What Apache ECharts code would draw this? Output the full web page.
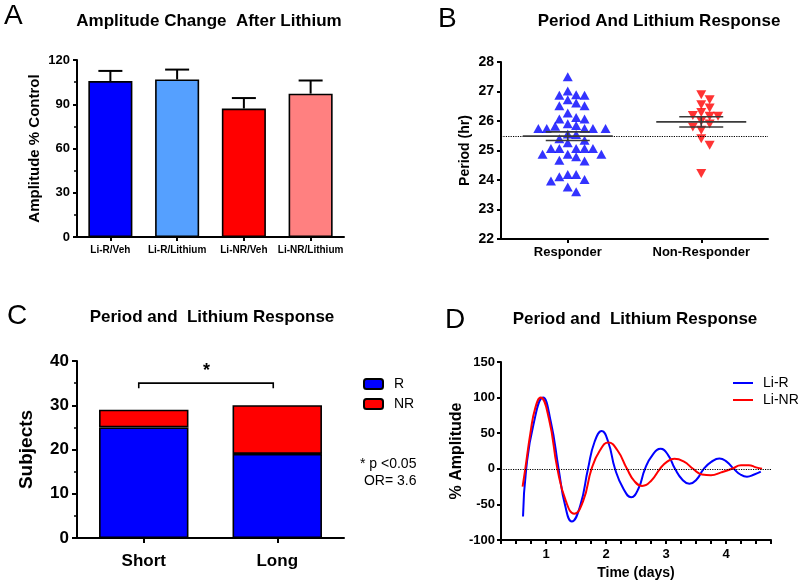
<!DOCTYPE html>
<html>
<head>
<meta charset="utf-8">
<script src="https://cdn.jsdelivr.net/npm/echarts@6/dist/echarts.min.js"></script>
<style>html,body{margin:0;padding:0;background:#fff}#c{width:800px;height:582px}</style>
</head>
<body>
<div id="c"></div>
<script>
// ---------------- DATA ----------------
// Panel A
const ampCategories = ['Li-R/Veh', 'Li-R/Lithium', 'Li-NR/Veh', 'Li-NR/Lithium'];
const ampMean = [105.7, 106.8, 87.1, 97.2];
const ampSEM = [6.9, 6.7, 7.1, 8.9];

// Panel B
const periodGroups = ['Responder', 'Non-Responder'];
const responderPeriod = [27.5, 27.02, 26.89, 26.87, 26.87, 26.72, 26.61, 26.52, 26.52, 26.27,
  26.12, 26.07, 26.07, 25.91, 25.85, 25.82, 25.75, 25.75, 25.75, 25.75, 25.75,
  25.56, 25.54, 25.40, 25.35, 25.26, 25.07, 25.07, 25.07, 25.07, 25.07,
  24.87, 24.87, 24.87, 24.79, 24.67, 24.64, 24.19, 24.19, 24.11, 24.02, 23.97, 23.76, 23.60];
const nonResponderPeriod = [26.89, 26.72, 26.55, 26.44, 26.29, 26.19, 26.16, 26.16,
  25.99, 25.90, 25.80, 25.69, 25.40, 25.18, 24.22];
const periodReference = 25.5;

// Panel C
const lengthCategories = ['Short', 'Long'];
const countR = [25, 19];
const countNR = [4, 11];
const sigBracket = [[0, 1, 35]];
const sigText = ['* p <0.05', ' OR= 3.6'];

// Panel D
const liRTime = [0.617, 0.67, 0.79, 0.95, 1.08, 1.21, 1.32, 1.43, 1.57, 1.70, 1.81, 1.93, 2.04, 2.15,
  2.29, 2.42, 2.54, 2.65, 2.78, 2.91, 3.03, 3.15, 3.27, 3.39, 3.51, 3.63, 3.76, 3.89, 4.01, 4.13,
  4.24, 4.35, 4.47, 4.58];
const liRAmp = [-67, 0, 62, 100, 66, 0, -52, -74, -52, 0, 38, 53, 37, 0,
  -28, -40, -28, 0, 20, 28, 20, 0, -15, -21, -15, 0, 10, 14.5, 10, 0,
  -8, -11, -8, -4];
const liNRTime = [0.61, 0.655, 0.74, 0.82, 0.91, 1.05, 1.19, 1.33, 1.47, 1.62, 1.76, 1.90, 2.04, 2.19,
  2.35, 2.47, 2.60, 2.75, 2.90, 3.02, 3.14, 3.30, 3.45, 3.60, 3.75, 3.92, 4.10, 4.25, 4.38, 4.50, 4.60];
const liNRAmp = [-25, 0, 50, 85, 100, 70, 0, -45, -63, -45, 0, 26, 37, 26,
  0, -17, -24, -17, 0, 10, 14, 10, 0, -8, -9, -5, 0, 5, 5, 2, 0];

// ---------------- STYLE / LAYOUT ----------------
const FONT = "'Liberation Sans', Arial, Helvetica, sans-serif";
const ampColors = ['#0000FF', '#55A0FF', '#FF0000', '#FF8080'];
const gridA = {left: 77, top: 60, width: 267, height: 177};
const gridB = {left: 501, top: 62, width: 267, height: 177};
const gridC = {left: 77, top: 361, width: 267, height: 177};
const gridD = {left: 501, top: 362, width: 270, height: 178};

function mean(a) { return a.reduce((s, v) => s + v, 0) / a.length; }
function sem(a) {
  const m = mean(a);
  const sd = Math.sqrt(a.reduce((s, v) => s + (v - m) * (v - m), 0) / (a.length - 1));
  return sd / Math.sqrt(a.length);
}

// beeswarm placement (computed from values, not typed)
function swarm(values, center) {
  const pxPerY = gridB.height / 6;          // y axis spans 22..28
  const pxPerX = gridB.width / 2;           // x value axis spans 0.5..2.5
  const dx = 8.4, dy = 7.6;
  const placed = [];
  const order = values.map((v, i) => i).sort((a, b) => values[b] - values[a]);
  const out = new Array(values.length);
  for (const i of order) {
    const y = values[i] * pxPerY;
    let off = 0;
    for (let k = 0; k < 80; k++) {
      const o = (k % 2 === 1 ? 1 : -1) * Math.ceil(k / 2) * dx / 2;
      const ok = placed.every(p => ((p.x - o) / dx) ** 2 + ((p.y - y) / dy) ** 2 >= 1);
      if (ok) { off = o; break; }
    }
    placed.push({x: off, y: y});
    out[i] = [center + off / pxPerX, values[i]];
  }
  return out;
}

const axisLineStyle = {show: true, lineStyle: {color: '#000', width: 2}};
const tickStyle = {show: true, length: 4, lineStyle: {color: '#000', width: 2}};
const boldLabel = (size) => ({color: '#000', fontWeight: 'bold', fontSize: size, fontFamily: FONT});

const chart = echarts.init(document.getElementById('c'), null, {renderer: 'canvas'});

const option = {
  animation: false,
  backgroundColor: '#fff',
  textStyle: {fontFamily: FONT},
  title: [
    {text: 'Amplitude Change  After Lithium', left: 209, top: 13, padding: 0, textAlign: 'center', textStyle: boldLabel(17)},
    {text: 'Period And Lithium Response', left: 659, top: 13, padding: 0, textAlign: 'center', textStyle: boldLabel(17)},
    {text: 'Period and  Lithium Response', left: 212, top: 309, padding: 0, textAlign: 'center', textStyle: boldLabel(17)},
    {text: 'Period and  Lithium Response', left: 635, top: 311, padding: 0, textAlign: 'center', textStyle: boldLabel(17)}
  ],
  legend: [
    {
      data: ['R', 'NR'], orient: 'vertical', left: 363, top: 377, padding: 0,
      itemWidth: 19, itemHeight: 10, itemGap: 6,
      icon: 'roundRect', selectedMode: false,
      textStyle: {color: '#000', fontSize: 14, fontFamily: FONT, padding: [0, 0, 0, 6]}
    },
    {
      data: ['Li-R', 'Li-NR'], orient: 'vertical', left: 733, top: 376, padding: 0,
      itemWidth: 20, itemHeight: 2, itemGap: 3, icon: 'rect',
      selectedMode: false,
      textStyle: {color: '#000', fontSize: 14, fontFamily: FONT, padding: [0, 0, 0, 5]}
    }
  ],
  grid: [gridA, gridB, gridC, gridD],
  xAxis: [
    { // 0: A
      type: 'category', gridIndex: 0, data: ampCategories,
      axisLine: axisLineStyle, axisTick: Object.assign({alignWithLabel: true}, tickStyle),
      axisLabel: Object.assign({margin: 8, interval: 0}, boldLabel(10))
    },
    { // 1: B categories
      type: 'category', gridIndex: 1, data: periodGroups,
      axisLine: axisLineStyle, axisTick: Object.assign({alignWithLabel: true}, tickStyle),
      axisLabel: Object.assign({margin: 7, interval: 0}, boldLabel(13))
    },
    { // 2: B value axis for scatter
      type: 'value', gridIndex: 1, min: 0.5, max: 2.5, show: false
    },
    { // 3: C
      type: 'category', gridIndex: 2, data: lengthCategories,
      axisLine: axisLineStyle, axisTick: Object.assign({alignWithLabel: true}, tickStyle, {length: 5}),
      axisLabel: Object.assign({margin: 15, interval: 0}, boldLabel(17))
    },
    { // 4: D
      type: 'value', gridIndex: 3, min: 0.25, max: 4.75, interval: 0.25,
      axisLine: Object.assign({onZero: false}, axisLineStyle), axisTick: Object.assign({}, tickStyle, {length: 4}),
      splitLine: {show: false},
      axisLabel: Object.assign({
        margin: 8, formatter: v => (Math.abs(v - Math.round(v)) < 1e-9 ? String(Math.round(v)) : '')
      }, boldLabel(13)),
      name: 'Time (days)', nameLocation: 'middle', nameGap: 26, nameTextStyle: boldLabel(14)
    }
  ],
  yAxis: [
    {
      type: 'value', gridIndex: 0, min: 0, max: 120, interval: 30,
      axisLine: axisLineStyle, axisTick: tickStyle, splitLine: {show: false},
      minorTick: {show: true, splitNumber: 2, length: 3, lineStyle: {color: '#000', width: 1.5}},
      axisLabel: Object.assign({margin: 7}, boldLabel(13)),
      name: 'Amplitude % Control', nameLocation: 'middle', nameGap: 35, nameTextStyle: boldLabel(15)
    },
    {
      type: 'value', gridIndex: 1, min: 22, max: 28, interval: 1,
      axisLine: axisLineStyle, axisTick: tickStyle, splitLine: {show: false},
      axisLabel: Object.assign({margin: 7}, boldLabel(14)),
      name: 'Period (hr)', nameLocation: 'middle', nameGap: 29, nameTextStyle: boldLabel(14)
    },
    {
      type: 'value', gridIndex: 2, min: 0, max: 40, interval: 10,
      axisLine: axisLineStyle, axisTick: Object.assign({}, tickStyle, {length: 5}), splitLine: {show: false},
      minorTick: {show: true, splitNumber: 2, length: 3, lineStyle: {color: '#000', width: 1.5}},
      axisLabel: Object.assign({margin: 8}, boldLabel(17)),
      name: 'Subjects', nameLocation: 'middle', nameGap: 41, nameTextStyle: boldLabel(19)
    },
    {
      type: 'value', gridIndex: 3, min: -100, max: 150, interval: 50,
      axisLine: axisLineStyle, axisTick: tickStyle, splitLine: {show: false},
      axisLabel: Object.assign({margin: 6}, boldLabel(13)),
      name: '% Amplitude', nameLocation: 'middle', nameGap: 36, nameTextStyle: boldLabel(16)
    }
  ],
  series: [
    // ---- A bars
    {
      type: 'bar', xAxisIndex: 0, yAxisIndex: 0, barWidth: '66%',
      data: ampMean.map((v, i) => ({value: v, itemStyle: {color: ampColors[i]}})),
      itemStyle: {borderColor: '#000', borderWidth: 1.6}
    },
    // ---- A error bars (upper only)
    {
      type: 'custom', xAxisIndex: 0, yAxisIndex: 0, z: 5,
      data: ampMean.map((m, i) => [i, m, ampSEM[i]]),
      encode: {x: 0, y: 1},
      renderItem: (params, api) => {
        const x = api.value(0), m = api.value(1), e = api.value(2);
        const base = api.coord([x, m]);
        const top = api.coord([x, m + e]);
        const st = {stroke: '#000', lineWidth: 2};
        return {type: 'group', children: [
          {type: 'line', shape: {x1: base[0], y1: base[1], x2: top[0], y2: top[1]}, style: st},
          {type: 'line', shape: {x1: top[0] - 12, y1: top[1], x2: top[0] + 12, y2: top[1]}, style: st}
        ]};
      }
    },
    // ---- B scatter
    {
      name: periodGroups[0], type: 'scatter', xAxisIndex: 2, yAxisIndex: 1,
      symbol: 'triangle', symbolSize: [10, 9], itemStyle: {color: '#0000FF'},
      data: swarm(responderPeriod, 1),
      markLine: {
        silent: true, symbol: 'none', label: {show: false},
        lineStyle: {color: '#000', type: 'dotted', width: 1.2},
        data: [{yAxis: periodReference}]
      }
    },
    {
      name: periodGroups[1], type: 'scatter', xAxisIndex: 2, yAxisIndex: 1,
      symbol: 'triangle', symbolRotate: 180, symbolSize: [10, 9], itemStyle: {color: '#FF0000'},
      data: swarm(nonResponderPeriod, 2)
    },
    // ---- B mean +/- SEM
    {
      type: 'custom', xAxisIndex: 2, yAxisIndex: 1, z: 6,
      data: [[1, mean(responderPeriod), sem(responderPeriod)], [2, mean(nonResponderPeriod), sem(nonResponderPeriod)]],
      encode: {x: 0, y: 1},
      renderItem: (params, api) => {
        const x = api.value(0), m = api.value(1), s = api.value(2);
        const c = api.coord([x, m]), hi = api.coord([x, m + s]), lo = api.coord([x, m - s]);
        const st = {stroke: '#3a3a3a', lineWidth: 1.6};
        return {type: 'group', children: [
          {type: 'line', shape: {x1: c[0] - 45, y1: c[1], x2: c[0] + 45, y2: c[1]}, style: st},
          {type: 'line', shape: {x1: hi[0] - 22, y1: hi[1], x2: hi[0] + 22, y2: hi[1]}, style: st},
          {type: 'line', shape: {x1: lo[0] - 22, y1: lo[1], x2: lo[0] + 22, y2: lo[1]}, style: st},
          {type: 'line', shape: {x1: hi[0], y1: hi[1], x2: lo[0], y2: lo[1]}, style: st}
        ]};
      }
    },
    // ---- C stacked bars
    {
      name: 'R', type: 'bar', xAxisIndex: 3, yAxisIndex: 2, stack: 'c', barWidth: '67%',
      data: countR, itemStyle: {color: '#0000FF', borderColor: '#000', borderWidth: 1.6}
    },
    {
      name: 'NR', type: 'bar', xAxisIndex: 3, yAxisIndex: 2, stack: 'c', barWidth: '67%',
      data: countNR, itemStyle: {color: '#FF0000', borderColor: '#000', borderWidth: 1.6}
    },
    // ---- C significance bracket
    {
      type: 'custom', xAxisIndex: 3, yAxisIndex: 2, z: 6,
      data: sigBracket, encode: {x: [0, 1], y: 2},
      renderItem: (params, api) => {
        const a = api.coord([api.value(0), api.value(2)]);
        const b = api.coord([api.value(1), api.value(2)]);
        return {type: 'group', children: [
          {type: 'polyline', shape: {points: [[a[0] - 5, a[1] + 5], [a[0] - 5, a[1]], [b[0] - 4, b[1]], [b[0] - 4, b[1] + 5]]},
            style: {stroke: '#000', lineWidth: 1.6, fill: null}},
          {type: 'text', style: {text: '*', x: (a[0] + b[0]) / 2 - 4, y: a[1] - 12, align: 'center', verticalAlign: 'middle',
            font: 'bold 18px ' + FONT, fill: '#000'}}
        ]};
      }
    },
    // ---- D lines
    {
      name: 'Li-R', type: 'line', xAxisIndex: 4, yAxisIndex: 3, smooth: 0.5, symbol: 'none',
      lineStyle: {color: '#0000FF', width: 2}, itemStyle: {color: '#0000FF'},
      data: liRTime.map((t, i) => [t, liRAmp[i]]),
      markLine: {
        silent: true, symbol: 'none', label: {show: false},
        lineStyle: {color: '#000', type: 'dotted', width: 1.2},
        data: [{yAxis: 0}]
      }
    },
    {
      name: 'Li-NR', type: 'line', xAxisIndex: 4, yAxisIndex: 3, smooth: 0.5, symbol: 'none',
      lineStyle: {color: '#FF0000', width: 2}, itemStyle: {color: '#FF0000'},
      data: liNRTime.map((t, i) => [t, liNRAmp[i]])
    }
  ],
  graphic: [
    {type: 'text', left: 4, top: 2, style: {text: 'A', font: '28px ' + FONT, fill: '#000'}},
    {type: 'text', left: 438, top: 5, style: {text: 'B', font: '28px ' + FONT, fill: '#000'}},
    {type: 'text', left: 7, top: 302, style: {text: 'C', font: '28px ' + FONT, fill: '#000'}},
    {type: 'text', left: 445, top: 306, style: {text: 'D', font: '28px ' + FONT, fill: '#000'}},
    {type: 'text', left: 360, top: 456, style: {text: sigText.join('\n'), font: '14px ' + FONT, fill: '#000', lineHeight: 17}}
  ]
};

chart.setOption(option);
</script>
</body>
</html>
